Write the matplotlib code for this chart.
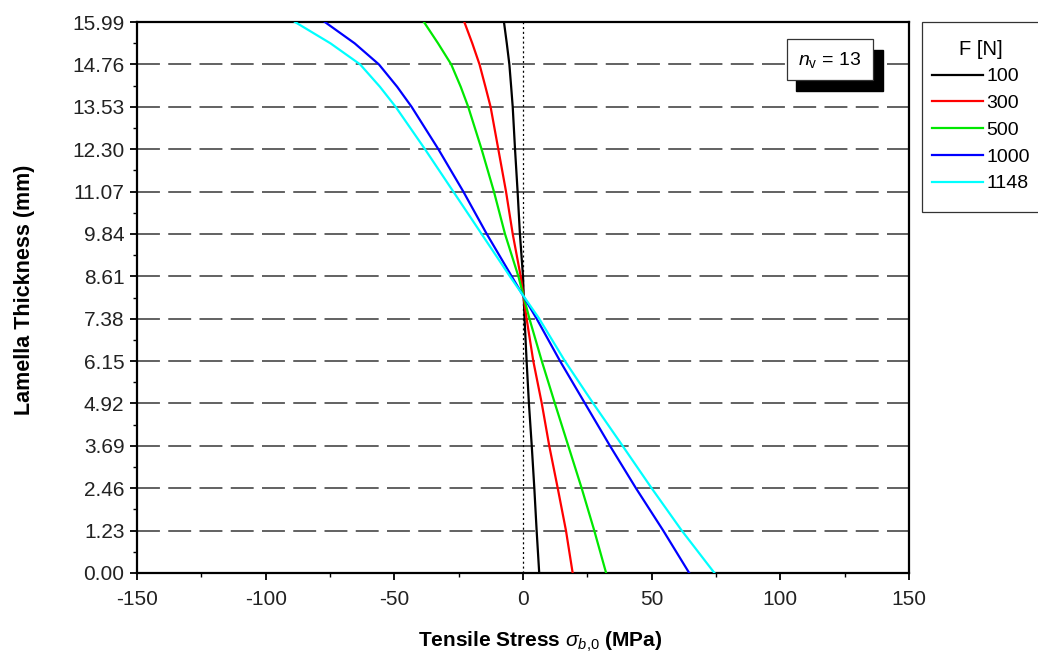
import matplotlib
matplotlib.use("Agg")
import matplotlib.pyplot as plt
from matplotlib.patches import Rectangle
from matplotlib.ticker import FixedLocator, MultipleLocator

plt.rcParams['font.family'] = ['Liberation Sans', 'DejaVu Sans']
plt.rcParams['mathtext.fontset'] = 'custom'
plt.rcParams['mathtext.rm'] = 'Liberation Sans'
plt.rcParams['mathtext.it'] = 'Liberation Sans:italic'
plt.rcParams['mathtext.bf'] = 'Liberation Sans:bold'
plt.rcParams['lines.scale_dashes'] = False

# ---- data ----
thickness = [0.00, 1.23, 2.46, 3.69, 4.92, 6.15, 7.38, 8.61, 9.84, 11.07, 12.30,
             13.53, 14.11, 14.76, 15.37, 15.99]
ytick_values = [0.00, 1.23, 2.46, 3.69, 4.92, 6.15, 7.38, 8.61, 9.84, 11.07, 12.30,
                13.53, 14.76, 15.99]
ytick_labels = ["0.00", "1.23", "2.46", "3.69", "4.92", "6.15", "7.38", "8.61",
                "9.84", "11.07", "12.30", "13.53", "14.76", "15.99"]
forces = ["100", "300", "500", "1000", "1148"]
stress_100 = [6.3, 5.3, 4.4, 3.4, 2.3, 1.4, 0.6, 0.0, -1.2, -2.1, -3.1, -4.0, -4.6, -5.3, -6.3, -7.4]
stress_300 = [19.3, 16.7, 13.5, 10.2, 7.3, 4.0, 1.4, -0.9, -4.0, -6.6, -9.6, -12.6, -14.6, -16.9, -19.7, -22.8]
stress_500 = [32.3, 27.7, 22.8, 17.6, 12.4, 7.3, 2.5, -1.8, -7.0, -11.3, -16.1, -21.3, -24.2, -27.9, -33.0, -38.5]
stress_1000 = [64.6, 54.5, 43.9, 33.8, 24.1, 14.4, 5.3, -4.4, -14.1, -23.2, -32.9, -43.3, -48.9, -56.0, -65.4, -77.0]
stress_1148 = [74.4, 61.7, 50.0, 38.7, 27.3, 16.3, 6.3, -5.1, -16.1, -27.1, -38.1, -49.5, -55.6, -63.3, -74.8, -88.6]
series = [stress_100, stress_300, stress_500, stress_1000, stress_1148]
colors = ["#000000", "#ff0000", "#00e800", "#0000ff", "#00ffff"]
xticks = [-150, -100, -50, 0, 50, 100, 150]
xtick_labels = ["-150", "-100", "-50", "0", "50", "100", "150"]

W, H = 1038, 658
fig = plt.figure(figsize=(W / 100, H / 100), dpi=100)
ax = fig.add_axes([137 / W, 1 - 573 / H, (909 - 137) / W, (573 - 22) / H])

# grid lines
for yv in ytick_values[1:-1]:
    ax.axhline(yv, color="#555555", lw=1.3, dashes=(16.5, 6), zorder=1)
ax.axvline(0, color="black", lw=0.9, dashes=(1.5, 2), zorder=1)

handles = []
for vals, c, lab in zip(series, colors, forces):
    h, = ax.plot(vals, thickness, color=c, lw=1.6, label=lab, zorder=3)
    handles.append(h)

ax.set_xlim(-150, 150)
ax.set_ylim(0, 15.99)
ax.set_xticks(xticks)
ax.set_xticklabels(xtick_labels)
ax.xaxis.set_minor_locator(MultipleLocator(25))
ax.set_yticks(ytick_values)
ax.set_yticklabels(ytick_labels)
ax.yaxis.set_minor_locator(FixedLocator([t + 0.615 for t in ytick_values[:-1]]))
for s in ax.spines.values():
    s.set_linewidth(1.6)
ax.tick_params(which='major', direction='out', length=5, width=1.3, labelsize=15, pad=4,
               colors='black', labelcolor='#222222')
ax.tick_params(which='minor', direction='out', length=3, width=1.0)
ax.tick_params(axis='x', which='major', length=5, pad=7)

ax.set_xlabel(r"Tensile Stress $\sigma_{b{,}\mathrm{0}}$ (MPa)", fontsize=15, fontweight='bold')
ax.set_ylabel("Lamella Thickness (mm)", fontsize=15.5, fontweight='bold')
ax.xaxis.set_label_coords((540 - 137) / 772, (573 - 630) / 551)
ax.yaxis.set_label_coords((35 - 137) / 772, (573 - 290) / 551)

def figrect(x0, y0, x1, y1, **kw):
    return Rectangle((x0 / W, 1 - y1 / H), (x1 - x0) / W, (y1 - y0) / H,
                     transform=fig.transFigure, **kw)

# legend (frame drawn separately)
fig.patches.append(figrect(922, 22, 1050, 212, facecolor="white", edgecolor="#333333", lw=0.9, zorder=4))
leg = fig.legend(handles=handles, labels=forces, title="F [N]", loc="upper left",
                 bbox_to_anchor=(922 / W, 1 - 30 / H), bbox_transform=fig.transFigure,
                 fontsize=14, title_fontsize=14.5,
                 frameon=False, handlelength=2.65, handletextpad=0.15,
                 labelspacing=0.47, borderpad=0.5, borderaxespad=0)
leg.set_zorder(8)

# n_v box with shadow
fig.patches.append(figrect(796, 50, 883, 91, facecolor="black", edgecolor="black", zorder=5))
fig.patches.append(figrect(787, 39, 873, 80, facecolor="white", edgecolor="#333333", lw=0.9, zorder=6))
fig.text(830 / W, 1 - 60 / H, r"$n_{\mathrm{v}}$ = 13", fontsize=14, ha="center", va="center", zorder=7)

fig.savefig("out.png", dpi=100)
